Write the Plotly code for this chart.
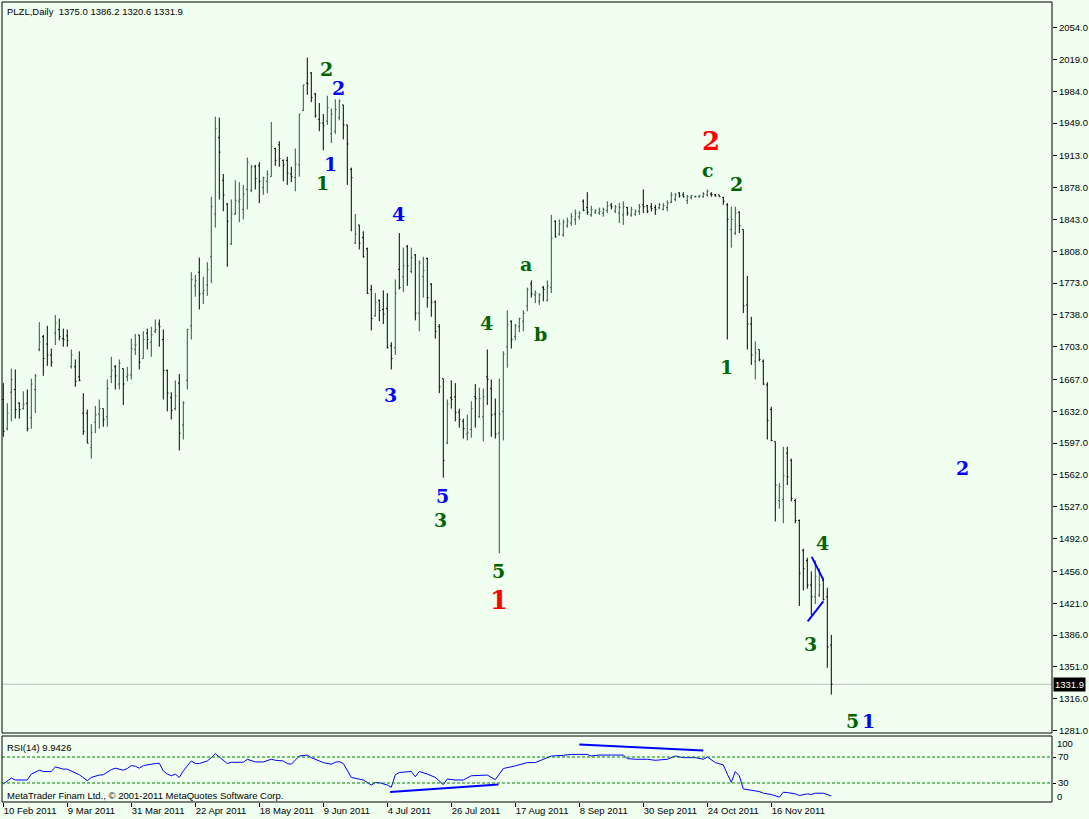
import plotly.graph_objects as go

# ---------------- data ----------------
bar_open = [1645,1613,1653,1656,1641,1635,1641,1625,1656,1700,
            1714,1706,1694,1718,1722,1712,1715,1681,1681,1670,
            1630,1630,1592,1620,1629,1635,1626,1670,1681,1662,
            1679,1670,1672,1700,1716,1690,1718,1708,1720,1728,
            1711,1677,1647,1635,1663,1617,1666,1726,1770,1785,
            1762,1771,1802,1849,1933,1886,1860,1816,1849,1863,
            1854,1876,1875,1901,1902,1878,1885,1890,1921,1925,
            1908,1908,1893,1889,1903,1963,1993,2004,1981,1953,
            1949,1951,1937,1940,1955,1969,1947,1898,1817,1837,
            1823,1811,1766,1737,1754,1744,1745,1704,1702,1788,
            1780,1813,1786,1804,1740,1780,1800,1772,1752,1725,
            1668,1597,1647,1648,1631,1621,1607,1612,1648,1626,
            1626,1670,1657,1629,1608,1632,1703,1731,1714,1725,
            1731,1748,1772,1760,1753,1768,1754,1768,1841,1827,
            1826,1836,1839,1843,1846,1863,1856,1848,1851,1850,
            1850,1853,1859,1852,1850,1848,1856,1848,1849,1852,
            1859,1858,1857,1856,1856,1854,1856,1862,1865,1872,
            1870,1864,1867,1868,1868,1868,1870,1871,1870,1870,
            1867,1859,1832,1828,1851,1832,1749,1728,1687,1700,
            1687,1661,1634,1599,1534,1535,1586,1578,1534,1512,
            1479,1468,1441,1428,1430,1446,1428,1375.0]
bar_high = [1663,1641,1679,1678,1642,1654,1656,1668,1673,1730,
            1716,1726,1701,1738,1734,1723,1722,1700,1689,1698,
            1652,1634,1618,1638,1645,1635,1667,1692,1683,1689,
            1679,1681,1712,1717,1716,1720,1723,1725,1733,1733,
            1722,1678,1653,1666,1673,1643,1723,1785,1782,1801,
            1780,1796,1868,1956,1955,1893,1861,1865,1886,1884,
            1881,1911,1903,1903,1906,1890,1897,1950,1922,1929,
            1909,1912,1901,1921,1959,1991,2021,2005,1982,1971,
            1959,1979,1965,1975,1975,1969,1947,1900,1849,1837,
            1830,1812,1771,1762,1755,1765,1762,1708,1777,1828,
            1812,1815,1812,1805,1798,1802,1801,1773,1754,1728,
            1668,1645,1666,1663,1635,1624,1628,1643,1662,1658,
            1657,1700,1667,1646,1668,1698,1743,1732,1728,1735,
            1743,1768,1776,1765,1762,1770,1776,1848,1842,1843,
            1843,1845,1850,1854,1852,1865,1873,1858,1854,1856,
            1856,1863,1861,1859,1861,1863,1857,1857,1854,1860,
            1876,1859,1861,1859,1861,1861,1864,1873,1872,1873,
            1873,1870,1870,1869,1870,1873,1876,1873,1871,1870,
            1868,1861,1857,1857,1852,1832,1781,1736,1709,1700,
            1689,1664,1637,1599,1553,1593,1593,1580,1536,1513,
            1481,1471,1456,1468,1459,1448,1438,1386.2]
bar_low = [1604,1611,1621,1624,1624,1634,1610,1613,1630,1698,
           1671,1682,1681,1705,1710,1703,1703,1679,1659,1665,
           1606,1597,1580,1608,1613,1615,1615,1663,1656,1656,
           1639,1665,1667,1694,1678,1690,1700,1692,1718,1703,
           1645,1632,1623,1633,1589,1601,1656,1711,1758,1744,
           1750,1759,1773,1834,1865,1852,1791,1815,1848,1840,
           1843,1854,1873,1876,1861,1870,1872,1890,1902,1901,
           1885,1881,1884,1874,1890,1962,1980,1972,1955,1940,
           1919,1947,1927,1937,1952,1931,1881,1830,1816,1810,
           1801,1761,1721,1736,1731,1728,1701,1678,1694,1766,
           1763,1770,1784,1732,1720,1757,1746,1736,1712,1652,
           1559,1596,1635,1621,1614,1602,1600,1603,1614,1625,
           1599,1639,1604,1602,1476,1600,1680,1701,1710,1719,
           1720,1742,1757,1751,1749,1753,1753,1762,1823,1825,
           1824,1834,1836,1837,1843,1852,1848,1846,1849,1848,
           1846,1850,1854,1850,1839,1837,1847,1846,1847,1848,
           1850,1850,1852,1848,1854,1853,1852,1861,1863,1867,
           1867,1860,1865,1867,1867,1867,1868,1868,1868,1868,
           1859,1711,1812,1826,1828,1740,1700,1683,1667,1687,
           1661,1601,1599,1511,1525,1509,1551,1533,1509,1418,
           1435,1437,1408,1420,1428,1424,1350,1320.6]
bar_close = [1610,1630,1667,1634,1634,1640,1613,1662,1671,1708,
             1690,1694,1686,1729,1714,1711,1710,1694,1665,1666,
             1610,1597,1609,1628,1635,1623,1657,1677,1671,1685,
             1662,1672,1701,1705,1686,1711,1711,1716,1722,1725,
             1677,1652,1633,1649,1608,1641,1722,1777,1776,1761,
             1765,1788,1857,1943,1917,1870,1841,1849,1864,1865,
             1871,1906,1901,1888,1885,1889,1893,1923,1908,1910,
             1903,1894,1890,1904,1959,1991,1992,1977,1957,1949,
             1946,1966,1959,1964,1973,1947,1926,1889,1827,1817,
             1802,1762,1734,1752,1743,1739,1702,1690,1762,1768,
             1792,1792,1801,1740,1795,1787,1757,1752,1720,1659,
             1578,1640,1645,1631,1623,1613,1609,1635,1646,1646,
             1648,1667,1628,1607,1629,1695,1727,1711,1726,1734,
             1740,1766,1761,1762,1760,1766,1770,1822,1824,1838,
             1840,1841,1846,1850,1850,1853,1851,1854,1853,1852,
             1854,1858,1857,1857,1856,1857,1850,1854,1852,1857,
             1857,1852,1855,1854,1859,1858,1861,1870,1870,1869,
             1868,1868,1869,1868.5,1869,1871,1874,1870,1869,1868,
             1863,1843,1843,1850,1836,1748,1728,1694,1696,1689,
             1662,1622,1600,1551,1549,1561,1560,1536,1512,1454,
             1459,1441,1428,1450,1441,1425,1373,1331.9]
bar_index = list(range(len(bar_close)))

date_labels = ["10 Feb 2011", "9 Mar 2011", "31 Mar 2011", "22 Apr 2011",
               "18 May 2011", "9 Jun 2011", "4 Jul 2011", "26 Jul 2011",
               "17 Aug 2011", "8 Sep 2011", "30 Sep 2011", "24 Oct 2011",
               "16 Nov 2011"]
date_bars = [0, 16, 32, 48, 64, 80, 96, 112, 128, 144, 160, 176, 192]

price_tick_labels = ["2054.0", "2019.0", "1984.0", "1949.0", "1913.0", "1878.0",
                     "1843.0", "1808.0", "1773.0", "1738.0", "1703.0", "1667.0",
                     "1632.0", "1597.0", "1562.0", "1527.0", "1492.0", "1456.0",
                     "1421.0", "1386.0", "1351.0", "1316.0", "1281.0"]
price_tick_values = [float(t) for t in price_tick_labels]

rsi_bars = [0, 2, 3, 6, 7, 9, 10, 12, 13, 15, 16, 18, 19, 21, 22, 24, 25, 27, 28, 30,
            31, 32, 33, 34, 35, 38, 39, 40, 41, 42, 43, 44, 45, 47, 48, 49, 51, 52, 53, 54,
            56, 57, 60, 61, 63, 65, 67, 68, 70, 71, 72, 74, 76, 77, 79, 80, 82, 83, 84, 85,
            87, 89, 90, 92, 93, 94, 96, 97, 98, 99, 101, 102, 103, 104, 106, 108, 110, 111,
            113, 115, 117, 119, 121, 123, 125, 128, 131, 133, 135, 137, 140, 142, 144, 146,
            147, 149, 152, 155, 156, 158, 161, 163, 166, 168, 170, 173, 175, 176, 178, 180,
            181, 182, 183, 184, 185, 187, 189, 190, 192, 194, 195, 196, 198, 199, 201, 202,
            203, 205, 206, 207]
rsi_values = [28.5, 37.6, 34.6, 34.6, 43.7, 49.7, 47.7, 47.7, 54.8, 51.3, 51.3, 44.7, 42.7,
              33.6, 38.6, 42.2, 42.7, 50.6, 52.8, 49.7, 52.3, 56.8, 55.8, 52.8, 56.8, 59.9,
              60.4, 48.6, 43.7, 41.1, 43.7, 38.6, 48.7, 63.9, 59.9, 59.9, 63.9, 69.0, 75.1,
              70.0, 59.9, 61.9, 61.9, 66.5, 62.4, 62.4, 66.5, 65.0, 63.9, 59.9, 58.9, 71.5,
              73.0, 69.0, 63.9, 61.4, 58.9, 61.9, 62.9, 59.9, 38.6, 36.1, 34.6, 26.9, 30.5,
              30.5, 26.9, 23.4, 42.7, 46.2, 47.7, 47.7, 39.6, 47.7, 43.7, 38.6, 27.5, 36.1,
              34.6, 34.6, 41.1, 42.2, 42.2, 35.1, 52.3, 56.3, 61.4, 61.4, 66.5, 71.5, 72.5,
              74.0, 74.0, 74.0, 71.5, 73.0, 73.0, 73.0, 67.5, 66.5, 66.5, 64.9, 66.5, 71.5,
              69.0, 69.0, 66.5, 70.0, 61.4, 57.8, 43.7, 31.0, 47.7, 41.1, 20.9, 18.4, 16.8,
              14.3, 12.3, 8.2, 15.8, 15.3, 13.3, 10.8, 13.3, 12.3, 14.3, 14.3, 12.3, 9.9426]

# Elliott wave labels
wave_text = ["2", "2", "1", "1", "4", "3", "5", "3", "4", "a", "b", "5", "1",
             "2", "c", "2", "1", "4", "3", "5", "1", "2"]
wave_bar = [80.7, 83.7, 81.9, 79.7, 98.7, 96.7, 109.9, 109.4, 120.7, 130.7, 134.4,
            123.9, 123.9, 176.9, 176.2, 183.2, 180.9, 204.7, 201.9, 212.2, 216.4, 239.7]
wave_price = [2008, 1987, 1904, 1883, 1849, 1650, 1539, 1512, 1729, 1794, 1717,
              1456, 1425, 1929, 1897, 1882, 1681, 1487, 1376, 1292, 1292, 1570]
wave_kind = ["g", "b", "b", "g", "b", "b", "b", "g", "g", "g", "g", "g", "r",
             "r", "g", "g", "g", "g", "g", "g", "b", "b"]

# trend lines
tri_upper_bar = [202.1, 205.0]
tri_upper_price = [1472, 1447]
tri_lower_bar = [201.1, 205.0]
tri_lower_price = [1401, 1423]
rsi_line1_bar = [96.7, 123.8]
rsi_line1_val = [16.3, 27.5]
rsi_line2_bar = [144.0, 175.0]
rsi_line2_val = [89.2, 80.1]

last_price = 1331.9

# ---------------- layout geometry ----------------
W, H = 1089, 819
ML, MR, MT, MB = 2, 37, 2, 17
plot_w = W - ML - MR
plot_h = H - MT - MB
def py(p):   # pixel y -> paper y
    return (H - MB - p) / plot_h
def px(p):   # pixel x -> paper x
    return (p - ML) / plot_w

main_dom = [py(733), 1.0]
rsi_dom = [0.0, py(736)]

BG = "#F0FFF0"
GREEN = "#006400"
BLUE = "#0000FF"
RED = "#FF0000"
FONT = "Liberation Sans"

fig = go.Figure()

fig.add_trace(go.Ohlc(
    x=bar_index, open=bar_open, high=bar_high, low=bar_low, close=bar_close,
    increasing=dict(line=dict(color="#2F4F4F", width=1)),
    decreasing=dict(line=dict(color="#000000", width=1)),
    tickwidth=0.3, xaxis="x", yaxis="y", showlegend=False, hoverinfo="skip"))

fig.add_trace(go.Scatter(x=tri_upper_bar, y=tri_upper_price, mode="lines",
                         line=dict(color=BLUE, width=2), xaxis="x", yaxis="y",
                         showlegend=False, hoverinfo="skip"))
fig.add_trace(go.Scatter(x=tri_lower_bar, y=tri_lower_price, mode="lines",
                         line=dict(color=BLUE, width=2), xaxis="x", yaxis="y",
                         showlegend=False, hoverinfo="skip"))

fig.add_trace(go.Scatter(x=rsi_bars, y=rsi_values, mode="lines",
                         line=dict(color=BLUE, width=1), xaxis="x2", yaxis="y2",
                         showlegend=False, hoverinfo="skip"))
fig.add_trace(go.Scatter(x=rsi_line1_bar, y=rsi_line1_val, mode="lines",
                         line=dict(color=BLUE, width=2), xaxis="x2", yaxis="y2",
                         showlegend=False, hoverinfo="skip"))
fig.add_trace(go.Scatter(x=rsi_line2_bar, y=rsi_line2_val, mode="lines",
                         line=dict(color=BLUE, width=2), xaxis="x2", yaxis="y2",
                         showlegend=False, hoverinfo="skip"))

xr = [(ML - 3.3) / 4.0, (W - MR - 3.3) / 4.0]

shapes = [
    dict(type="line", xref="paper", yref="y", x0=0, x1=1, y0=last_price, y1=last_price,
         line=dict(color="#C0C0C0", width=1), layer="below"),
    dict(type="line", xref="paper", yref="y2", x0=0, x1=1, y0=70, y1=70,
         line=dict(color="#008000", width=1, dash="3px,2px")),
    dict(type="line", xref="paper", yref="y2", x0=0, x1=1, y0=30, y1=30,
         line=dict(color="#008000", width=1, dash="3px,2px")),
    dict(type="rect", xref="paper", yref="paper", x0=0, x1=1, y0=main_dom[0], y1=main_dom[1],
         line=dict(color="black", width=1)),
    dict(type="rect", xref="paper", yref="paper", x0=0, x1=1, y0=rsi_dom[0], y1=rsi_dom[1],
         line=dict(color="black", width=1)),
]

annotations = []
color_map = {"g": GREEN, "b": BLUE, "r": RED}
for t, b, p, k in zip(wave_text, wave_bar, wave_price, wave_kind):
    annotations.append(dict(
        x=b, y=p, xref="x", yref="y", text=t, showarrow=False,
        font=dict(family="DejaVu Serif", size=26 if k == "r" else 19,
                  color=color_map[k], weight="bold"),
        xanchor="center", yanchor="middle"))

small = dict(family=FONT, size=9.5, color="black")
annotations += [
    dict(x=px(5), y=py(12), xref="paper", yref="paper",
         text="PLZL,Daily\u00a0\u00a01375.0 1386.2 1320.6 1331.9",
         showarrow=False, xanchor="left", yanchor="middle", font=small),
    dict(x=px(5), y=py(747), xref="paper", yref="paper", text="RSI(14) 9.9426",
         showarrow=False, xanchor="left", yanchor="middle", font=small),
    dict(x=px(5), y=py(795), xref="paper", yref="paper",
         text="MetaTrader Finam Ltd., \u00a9 2001-2011 MetaQuotes Software Corp.",
         showarrow=False, xanchor="left", yanchor="middle", font=small),
    dict(x=1, y=last_price, xref="paper", yref="y", text="1331.9", showarrow=False,
         xanchor="left", yanchor="middle", xshift=1, bgcolor="black", borderpad=1,
         font=dict(family=FONT, size=9.5, color="white")),
    dict(x=1, y=py(743), xref="paper", yref="paper", text="100", showarrow=False,
         xanchor="left", yanchor="middle", xshift=3, font=small),
    dict(x=1, y=py(796), xref="paper", yref="paper", text="0", showarrow=False,
         xanchor="left", yanchor="middle", xshift=3, font=small),
]

fig.update_layout(
    width=W, height=H,
    margin=dict(l=ML, r=MR, t=MT, b=MB, pad=0),
    paper_bgcolor=BG, plot_bgcolor=BG,
    showlegend=False,
    xaxis=dict(domain=[0, 1], anchor="y", range=xr, showticklabels=False, ticks="",
               showgrid=False, zeroline=False, showline=False,
               rangeslider=dict(visible=False)),
    yaxis=dict(domain=main_dom, anchor="x", side="right", range=[1278.3, 2082.1],
               tickvals=price_tick_values, ticktext=price_tick_labels,
               ticks="outside", ticklen=4, tickcolor="black", showgrid=False,
               zeroline=False, showline=False, tickfont=small),
    xaxis2=dict(domain=[0, 1], anchor="y2", matches="x", range=xr,
                tickvals=date_bars, ticktext=date_labels, ticks="outside", ticklen=4,
                tickcolor="black", ticklabelposition="outside right",
                showgrid=False, zeroline=False, showline=False, tickfont=small),
    yaxis2=dict(domain=rsi_dom, anchor="x2", side="right", range=[0.77, 102.3],
                tickvals=[30, 70], ticktext=["30", "70"], ticks="outside", ticklen=3,
                tickcolor="black", showgrid=False, zeroline=False, showline=False,
                tickfont=small),
    shapes=shapes,
    annotations=annotations,
)

fig.write_html("out.html", config={"displayModeBar": False},
               post_script="document.body.style.margin='0';document.body.style.overflow='hidden';")
